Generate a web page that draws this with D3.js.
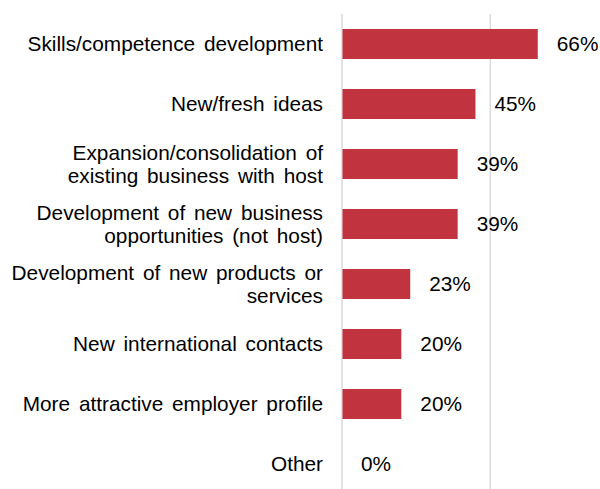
<!DOCTYPE html>
<html>
<head>
<meta charset="utf-8">
<script src="https://cdn.jsdelivr.net/npm/d3@7"></script>
<style>
  html, body { margin: 0; padding: 0; background: #fff; }
  svg { display: block; }
  text { font-family: "Liberation Sans", Arial, sans-serif; fill: #000; }
</style>
</head>
<body>
<svg id="chart" width="600" height="489"></svg>
<script>
// Benefits reported, share of respondents (%)
const categories = [
  ["Skills/competence development"],
  ["New/fresh ideas"],
  ["Expansion/consolidation of", "existing business with host"],
  ["Development of new business", "opportunities (not host)"],
  ["Development of new products or", "services"],
  ["New international contacts"],
  ["More attractive employer profile"],
  ["Other"]
];
const values = [66, 45, 39, 39, 23, 20, 20, 0];
const gridTicks = [0, 50, 100];

const svg = d3.select("#chart");
const W = 600, H = 489;
const plotLeft = 342, plotTop = 14;
const fontSize = 20.8;

const x = d3.scaleLinear().domain([0, 100]).range([plotLeft, plotLeft + 296.6]);
const y = d3.scaleBand()
  .domain(d3.range(categories.length))
  .range([plotTop, plotTop + 480])
  .paddingInner(0.5)
  .paddingOuter(0.25);

// vertical gridlines
svg.append("g").selectAll("line")
  .data(gridTicks)
  .join("line")
  .attr("x1", d => x(d)).attr("x2", d => x(d))
  .attr("y1", plotTop).attr("y2", H)
  .attr("stroke", "#d9d9d9")
  .attr("stroke-width", 1.5);

// bars
svg.append("g").selectAll("rect")
  .data(values)
  .join("rect")
  .attr("x", x(0) + 0.5)
  .attr("y", (d, i) => y(i))
  .attr("width", d => Math.max(0, x(d) - x(0) - 0.5))
  .attr("height", y.bandwidth())
  .attr("fill", "#c1343f");

// value labels
svg.append("g").selectAll("text")
  .data(values)
  .join("text")
  .attr("x", d => x(d) + 19)
  .attr("y", (d, i) => y(i) + y.bandwidth() / 2)
  .attr("dy", "0.36em")
  .style("font-size", fontSize + "px")
  .text(d => d + "%");

// category labels (right-aligned, wrapped lines)
const lineH = 23.5;
const lab = svg.append("g").selectAll("text")
  .data(categories)
  .join("text")
  .attr("text-anchor", "end")
  .style("font-size", fontSize + "px")
  .style("word-spacing", "3px")
  .attr("y", (d, i) => y(i) + y.bandwidth() / 2);

lab.each(function(lines) {
  const t = d3.select(this);
  const cy = +t.attr("y");
  lines.forEach((s, k) => {
    t.append("tspan")
      .attr("x", 323)
      .attr("y", cy + (k - (lines.length - 1) / 2) * lineH)
      .attr("dy", "0.36em")
      .text(s);
  });
});
</script>
</body>
</html>
